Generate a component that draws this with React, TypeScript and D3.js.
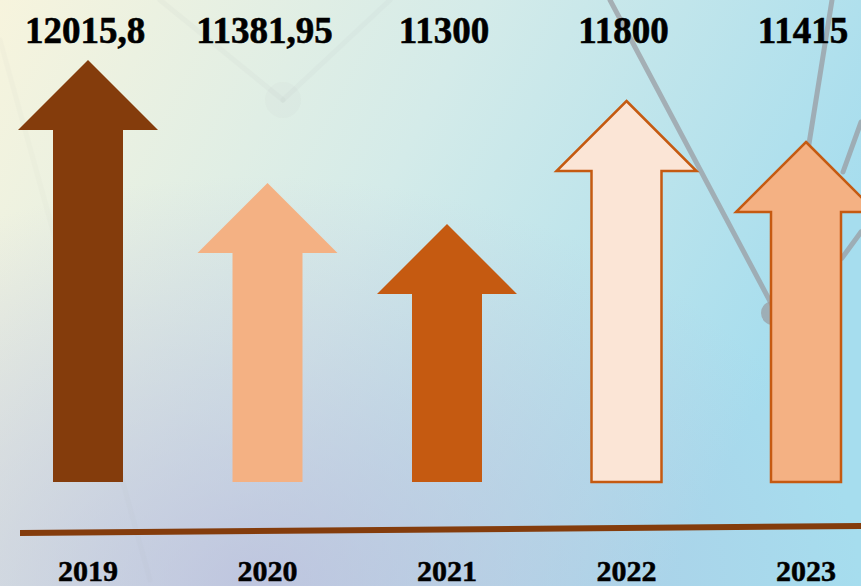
import * as d3 from 'd3';

const years = ['2019', '2020', '2021', '2022', '2023'];
const values = [12015.8, 11381.95, 11300, 11800, 11415];
const valueLabels = ['12015,8', '11381,95', '11300', '11800', '11415'];
const fills = ['#843c0c', '#f4b183', '#c55a11', '#fbe5d6', '#f4b183'];
const strokes = ['none', 'none', 'none', '#c55a11', '#c55a11'];

// decorative network lines in the background
const decoLines = [
  { x1: 610, y1: 0, x2: 772, y2: 305, o: 0.75 },
  { x1: 832, y1: 0, x2: 800, y2: 200, o: 0.75 },
  { x1: 861, y1: 122, x2: 843, y2: 172, o: 0.75 },
  { x1: 842, y1: 258, x2: 861, y2: 232, o: 0.75 },
  { x1: 160, y1: 0, x2: 283, y2: 100, o: 0.05 },
  { x1: 283, y1: 100, x2: 390, y2: 0, o: 0.05 },
  { x1: 0, y1: 40, x2: 150, y2: 580, o: 0.03 },
];

const W = 861;
const H = 586;

export default function App() {
  const x = d3.scalePoint<string>().domain(years).range([88, 806]);

  // arrow height follows the rank of the value
  const ranked = [...values].sort((a, b) => b - a).map(String);
  const tip = d3.scalePoint<string>().domain(ranked).range([60, 224]);

  const baseY = 482;
  const headH = 70;
  const headW = 70;
  const shaftW = 35;

  const arrow = (cx: number, t: number) => {
    const p = d3.path();
    p.moveTo(cx, t);
    p.lineTo(cx + headW, t + headH);
    p.lineTo(cx + shaftW, t + headH);
    p.lineTo(cx + shaftW, baseY);
    p.lineTo(cx - shaftW, baseY);
    p.lineTo(cx - shaftW, t + headH);
    p.lineTo(cx - headW, t + headH);
    p.closePath();
    return p.toString();
  };

  return (
    <svg width={W} height={H} style={{ position: 'absolute', left: 0, top: 0 }}>
      <defs>
        <linearGradient id="bg" x1="0" y1="0" x2="1" y2="0.35">
          <stop offset="0" stopColor="#f7f4dd" />
          <stop offset="0.5" stopColor="#d4ebe9" />
          <stop offset="1" stopColor="#a6ddee" />
        </linearGradient>
        <radialGradient id="lav" cx="0.3" cy="1" r="0.7">
          <stop offset="0" stopColor="#b8b6da" stopOpacity="0.7" />
          <stop offset="1" stopColor="#b8b6da" stopOpacity="0" />
        </radialGradient>
      </defs>
      <rect width={W} height={H} fill="url(#bg)" />
      <rect width={W} height={H} fill="url(#lav)" />

      {decoLines.map((l, i) => (
        <line key={i} x1={l.x1} y1={l.y1} x2={l.x2} y2={l.y2}
          stroke="#9a9da3" strokeWidth={5} opacity={l.o} strokeLinecap="round" />
      ))}
      <circle cx={773} cy={313} r={12} fill="#9a9da3" opacity={0.75} />
      <circle cx={283} cy={100} r={18} fill="#9a9da3" opacity={0.04} />

      {years.map((yr, i) => (
        <path key={yr} d={arrow(x(yr)!, tip(String(values[i]))!)}
          fill={fills[i]} stroke={strokes[i]} strokeWidth={2.5} />
      ))}

      <line x1={20} y1={533} x2={W} y2={526} stroke="#843c0c" strokeWidth={6} />

      {years.map((yr, i) => (
        <text key={'v' + yr} x={x(yr)! - 3} y={43} textAnchor="middle"
          fontFamily="'Liberation Serif', 'Times New Roman', serif"
          fontWeight="bold" fontSize={37} fill="#000"
          stroke="#000" strokeWidth={0.6}>
          {valueLabels[i]}
        </text>
      ))}

      {years.map((yr) => (
        <text key={'y' + yr} x={x(yr)!} y={581} textAnchor="middle"
          fontFamily="'Liberation Serif', 'Times New Roman', serif"
          fontWeight="bold" fontSize={30} fill="#000"
          stroke="#000" strokeWidth={0.5}>
          {yr}
        </text>
      ))}
    </svg>
  );
}
